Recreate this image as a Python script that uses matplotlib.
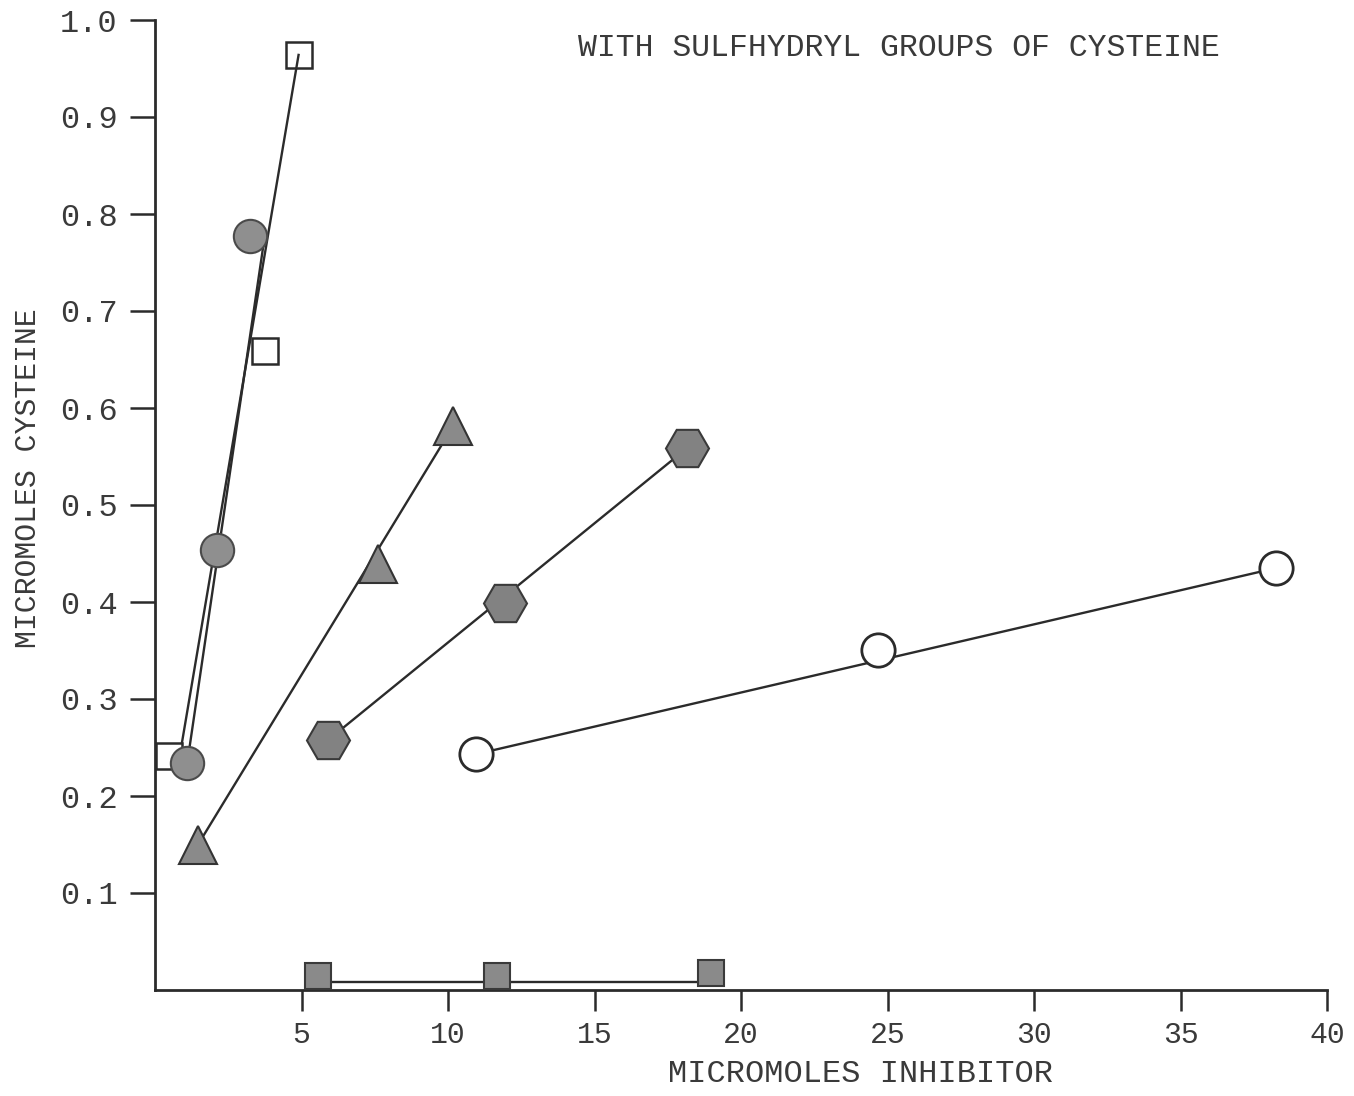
import matplotlib.pyplot as plt

# Readings taken off the original figure.
open_sq_x = [0.49, 3.75, 4.90]
open_sq_y = [0.241, 0.659, 0.964]
open_sq_fit_x = [0.92, 4.90]
open_sq_fit_y = [0.255, 0.964]

dot_x = [1.10, 2.12, 3.24]
dot_y = [0.234, 0.454, 0.777]
dot_fit_x = [1.10, 3.72]
dot_fit_y = [0.234, 0.772]

tri_x = [1.47, 7.61, 10.17]
tri_y = [0.150, 0.439, 0.581]

hex_x = [5.92, 11.96, 18.17]
hex_y = [0.258, 0.399, 0.559]

ring_x = [10.94, 24.66, 38.26]
ring_y = [0.243, 0.351, 0.435]

fill_sq_x = [5.56, 11.66, 18.99]
fill_sq_y = [0.014, 0.014, 0.0175]
fill_sq_fit_x = [5.56, 18.99]
fill_sq_fit_y = [0.008, 0.008]

xticks = [5, 10, 15, 20, 25, 30, 35, 40]
yticks = [0.1, 0.2, 0.3, 0.4, 0.5, 0.6, 0.7, 0.8, 0.9, 1.0]

plt.rcParams['font.family'] = ['Liberation Mono', 'DejaVu Sans Mono']

fig = plt.figure(figsize=(13.54, 10.96), dpi=100)
ax = fig.add_axes([155 / 1354, 106 / 1096, 1172 / 1354, 970 / 1096])
ax.set_xlim(0, 40)
ax.set_ylim(0, 1.0)

ink = '#2b2b2b'
txt = '#3a3a3a'
lw = 1.7

# Fitted lines first, markers on top.
ax.plot(open_sq_fit_x, open_sq_fit_y, color=ink, lw=lw, zorder=2)
ax.plot(dot_fit_x, dot_fit_y, color=ink, lw=lw, zorder=2)
ax.plot([tri_x[0], tri_x[-1]], [tri_y[0], tri_y[-1]], color=ink, lw=lw, zorder=2)
ax.plot([hex_x[0], hex_x[-1]], [hex_y[0], hex_y[-1]], color=ink, lw=lw, zorder=2)
ax.plot([ring_x[0], ring_x[-1]], [ring_y[0], ring_y[-1]], color=ink, lw=lw, zorder=2)
ax.plot(fill_sq_fit_x, fill_sq_fit_y, color=ink, lw=lw, zorder=2)

ax.plot(open_sq_x, open_sq_y, 's', ms=19, mfc='none', mec=ink, mew=1.8, zorder=3)
ax.plot(dot_x, dot_y, 'o', ms=24, mfc='#8f8f8f', mec='#4a4a4a', mew=1.5, zorder=4)
ax.plot(tri_x, tri_y, '^', ms=28, mfc='#8a8a8a', mec='#333333', mew=1.5, zorder=4)
ax.plot(hex_x, hex_y, 'H', ms=31, mfc='#828282', mec='#3a3a3a', mew=1.5, zorder=4)
ax.plot(ring_x, ring_y, 'o', ms=24, mfc='white', mec=ink, mew=2.0, zorder=4)
ax.plot(fill_sq_x, fill_sq_y, 's', ms=19, mfc='#8a8a8a', mec='#3a3a3a', mew=1.5,
        zorder=4, clip_on=False)

# Axes styled like the typed original.
for side in ['top', 'right']:
    ax.spines[side].set_visible(False)
for side in ['left', 'bottom']:
    ax.spines[side].set_linewidth(2.0)
    ax.spines[side].set_color(ink)

ax.set_xticks(xticks)
ax.set_xticklabels([str(t) for t in xticks])
ax.set_yticks(yticks)
ax.set_yticklabels(['%.1f' % t for t in yticks])
ax.tick_params(axis='x', direction='out', length=15, width=1.8, color=ink,
               pad=7, labelsize=21.5, labelcolor=txt)
ax.tick_params(axis='y', direction='out', length=18, width=1.8, color=ink,
               pad=9, labelsize=23, labelcolor=txt)

fig.text(860 / 1354, 1 - 1074 / 1096, 'MICROMOLES INHIBITOR', ha='center',
         va='center', fontsize=23, color=txt)
fig.text(28 / 1354, 1 - 478 / 1096, 'MICROMOLES CYSTEINE', ha='center',
         va='center', rotation=90, fontsize=21.5, color=txt)
fig.text(578 / 1354, 1 - 48 / 1096, 'WITH SULFHYDRYL GROUPS OF CYSTEINE',
         ha='left', va='center', fontsize=22.7, color=txt)

plt.savefig('out.png', dpi=100)
